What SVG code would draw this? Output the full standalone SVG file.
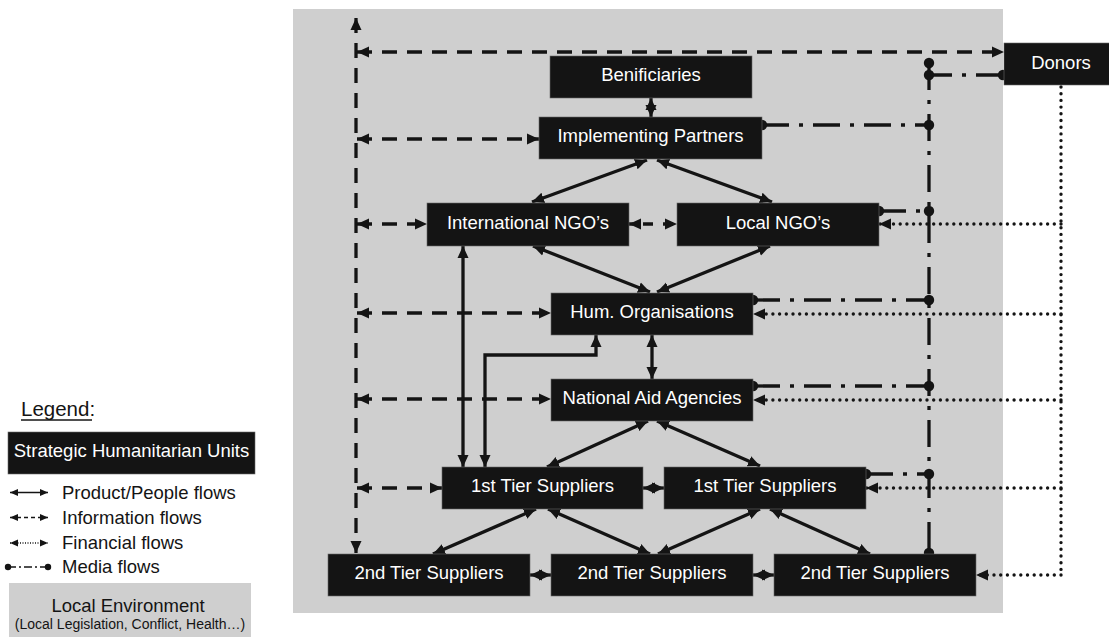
<svg xmlns="http://www.w3.org/2000/svg" width="1109" height="637" viewBox="0 0 1109 637">
<defs>
<style>
.node rect{fill:#141414;stroke:#6a6a6a;stroke-width:0.6}
.node text{font-family:"Liberation Sans",Arial,sans-serif;font-size:18.5px;fill:#ffffff;text-anchor:middle}
.ltxt{font-family:"Liberation Sans",Arial,sans-serif;font-size:18.5px;fill:#141414}
.c{fill:none;stroke:#141414;stroke-width:3.3}
.prod{marker-start:url(#arr);marker-end:url(#arr)}
.info{stroke-dasharray:15 10;marker-start:url(#arr);marker-end:url(#arr)}
.fin{stroke-dasharray:0 6.7;stroke-linecap:round;stroke-width:3.4;marker-end:url(#arr)}
.media{stroke-dasharray:27 10 4 10;marker-start:url(#dot);marker-end:url(#dot)}
.lg{fill:none;stroke:#141414;stroke-width:1.6}
</style>
<marker id="arr" markerUnits="userSpaceOnUse" markerWidth="13" markerHeight="12" refX="12" refY="6" orient="auto-start-reverse" viewBox="0 0 13 12">
<path d="M0,0.5 L12,6 L0,11.5 z" fill="#141414"/>
</marker>
<marker id="dot" markerUnits="userSpaceOnUse" markerWidth="12" markerHeight="12" refX="6" refY="6" viewBox="0 0 12 12">
<circle cx="6" cy="6" r="5.2" fill="#141414"/>
</marker>
<marker id="sarr" markerUnits="userSpaceOnUse" markerWidth="9" markerHeight="8" refX="8" refY="4" orient="auto-start-reverse" viewBox="0 0 9 8">
<path d="M0,0.5 L8,4 L0,7.5 z" fill="#141414"/>
</marker>
<marker id="sdot" markerUnits="userSpaceOnUse" markerWidth="8" markerHeight="8" refX="4" refY="4" viewBox="0 0 8 8">
<circle cx="4" cy="4" r="3.2" fill="#141414"/>
</marker>
</defs>

<rect id="environment" x="293" y="9" width="710" height="604" fill="#cfcfcf"/>

<g id="connectors">
<!-- information flows -->
<line class="c info" x1="356" y1="18" x2="356" y2="553"/>
<line class="c info" x1="357" y1="52" x2="1004" y2="52"/>
<line class="c info" x1="357" y1="139" x2="539" y2="139"/>
<line class="c info" x1="357" y1="224" x2="427" y2="224"/>
<line class="c info" x1="357" y1="313" x2="551" y2="313"/>
<line class="c info" x1="357" y1="399" x2="551" y2="399"/>
<line class="c info" x1="357" y1="488" x2="442" y2="488"/>
<line class="c info" x1="629" y1="224" x2="677" y2="224" style="stroke-dasharray:10 10;stroke-dashoffset:-14"/>

<!-- product/people flows -->
<line class="c prod" x1="651" y1="98" x2="651" y2="117"/>
<line class="c prod" x1="647" y1="160" x2="532" y2="202"/>
<line class="c prod" x1="657" y1="160" x2="772" y2="202"/>
<line class="c prod" x1="533" y1="246" x2="650" y2="292"/>
<line class="c prod" x1="770" y1="246" x2="657" y2="292"/>
<line class="c prod" x1="652" y1="335" x2="652" y2="379"/>
<line class="c prod" x1="648" y1="421" x2="547" y2="467"/>
<line class="c prod" x1="657" y1="421" x2="760" y2="466"/>
<line class="c prod" x1="643" y1="488" x2="664" y2="488"/>
<line class="c prod" x1="463" y1="246" x2="463" y2="467"/>
<polyline class="c prod" points="485,467 485,355 596,355 596,335"/>
<line class="c prod" x1="536" y1="509" x2="433" y2="554"/>
<line class="c prod" x1="548" y1="509" x2="650" y2="554"/>
<line class="c prod" x1="760" y1="509" x2="658" y2="554"/>
<line class="c prod" x1="770" y1="509" x2="870" y2="554"/>
<line class="c prod" x1="530" y1="575" x2="551" y2="575"/>
<line class="c prod" x1="753" y1="575" x2="774" y2="575"/>

<!-- media flows -->
<line class="c media" x1="929" y1="63" x2="929" y2="553"/>
<line class="c media" x1="1003" y1="75" x2="929" y2="75"/>
<line class="c media" x1="762" y1="125" x2="929" y2="125"/>
<line class="c media" x1="879" y1="211" x2="929" y2="211"/>
<line class="c media" x1="753" y1="300" x2="929" y2="300"/>
<line class="c media" x1="753" y1="386" x2="929" y2="386"/>
<line class="c media" x1="866" y1="474" x2="929" y2="474"/>

<!-- financial flows -->
<line class="c" x1="1061" y1="87" x2="1061" y2="575" style="stroke-dasharray:0 6.7;stroke-linecap:round;stroke-width:3.4"/>
<line class="c fin" x1="1061" y1="224" x2="879" y2="224"/>
<line class="c fin" x1="1061" y1="314" x2="753" y2="314"/>
<line class="c fin" x1="1061" y1="400" x2="753" y2="400"/>
<line class="c fin" x1="1061" y1="488" x2="866" y2="488"/>
<line class="c fin" x1="1061" y1="575" x2="976" y2="575"/>
</g>

<g id="donors" class="node"><rect x="1004" y="43" width="114" height="42"/><text x="1061" y="69">Donors</text></g>
<g id="beneficiaries" class="node"><rect x="550" y="56" width="202" height="42"/><text x="651" y="81">Benificiaries</text></g>
<g id="implementing-partners" class="node"><rect x="539" y="117" width="223" height="42"/><text x="650.5" y="142">Implementing Partners</text></g>
<g id="international-ngos" class="node"><rect x="427" y="203" width="202" height="43"/><text x="528" y="229">International NGO’s</text></g>
<g id="local-ngos" class="node"><rect x="677" y="203" width="202" height="43"/><text x="778" y="229">Local NGO’s</text></g>
<g id="hum-organisations" class="node"><rect x="551" y="293" width="202" height="42"/><text x="652" y="318">Hum. Organisations</text></g>
<g id="national-aid-agencies" class="node"><rect x="551" y="379" width="202" height="42"/><text x="652" y="404">National Aid Agencies</text></g>
<g id="tier1-left" class="node"><rect x="442" y="467" width="201" height="42"/><text x="542.5" y="492">1st Tier Suppliers</text></g>
<g id="tier1-right" class="node"><rect x="664" y="467" width="202" height="42"/><text x="765" y="492">1st Tier Suppliers</text></g>
<g id="tier2-left" class="node"><rect x="328" y="554" width="202" height="42"/><text x="429" y="579">2nd Tier Suppliers</text></g>
<g id="tier2-mid" class="node"><rect x="551" y="554" width="202" height="42"/><text x="652" y="579">2nd Tier Suppliers</text></g>
<g id="tier2-right" class="node"><rect x="774" y="554" width="202" height="42"/><text x="875" y="579">2nd Tier Suppliers</text></g>

<g id="legend">
<text x="21" y="416" class="ltxt" style="font-size:20.5px">Legend:</text>
<line x1="21" y1="420" x2="92" y2="420" stroke="#141414" stroke-width="1.4"/>
<g class="node"><rect x="8" y="432" width="247" height="42"/><text x="131.5" y="457">Strategic Humanitarian Units</text></g>
<line class="lg" x1="10" y1="492.5" x2="48" y2="492.5" marker-start="url(#sarr)" marker-end="url(#sarr)"/>
<text x="62" y="499" class="ltxt">Product/People flows</text>
<line class="lg" x1="10" y1="517.5" x2="48" y2="517.5" stroke-dasharray="4 3" marker-start="url(#sarr)" marker-end="url(#sarr)"/>
<text x="62" y="524" class="ltxt">Information flows</text>
<line class="lg" x1="10" y1="543" x2="48" y2="543" stroke-width="1" stroke-dasharray="1 1.5" marker-start="url(#sarr)" marker-end="url(#sarr)"/>
<text x="62" y="549" class="ltxt">Financial flows</text>
<line class="lg" x1="8" y1="567" x2="48" y2="567" stroke-dasharray="8 3 2 3" marker-start="url(#sdot)" marker-end="url(#sdot)"/>
<text x="62" y="573" class="ltxt">Media flows</text>
<rect x="9" y="583" width="242" height="60" fill="#cfcfcf"/>
<text x="128" y="612" class="ltxt" style="text-anchor:middle">Local Environment</text>
<text x="130" y="629" class="ltxt" style="text-anchor:middle;font-size:14px">(Local Legislation, Conflict, Health…)</text>
</g>
</svg>
